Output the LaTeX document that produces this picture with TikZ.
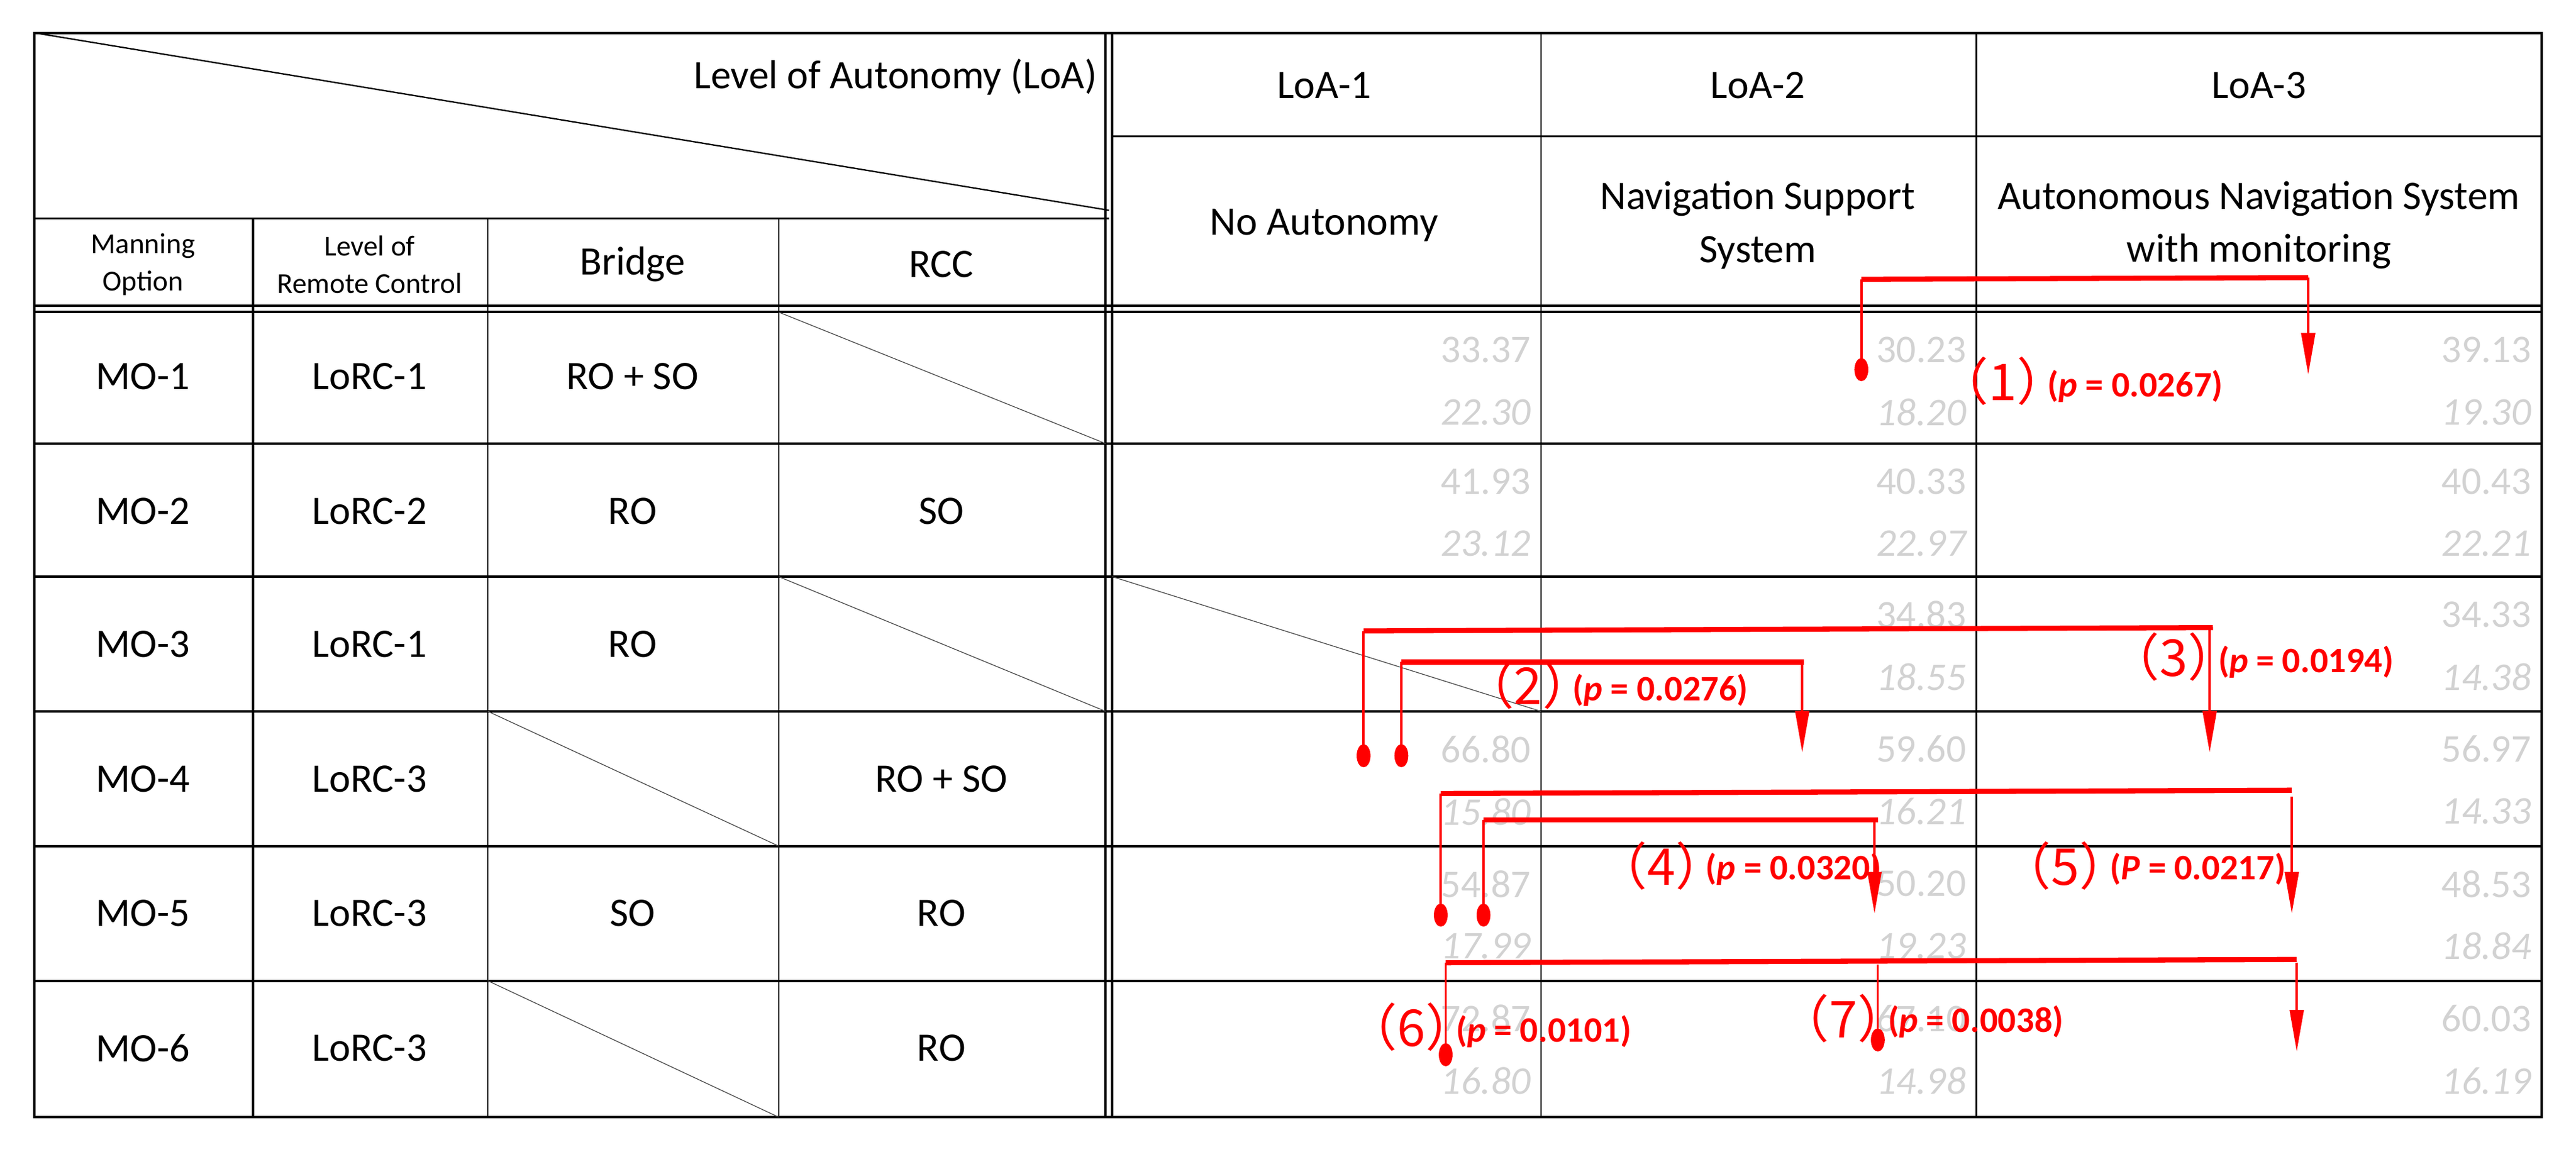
\documentclass[tikz,border=0pt]{standalone}
\usepackage{fontspec}
\setmainfont{Carlito}
\newfontfamily\cjk{Noto Sans CJK JP}
\usetikzlibrary{arrows.meta,shapes.geometric}
\definecolor{numgray}{RGB}{210,210,210}
\definecolor{ared}{RGB}{255,0,0}
\tikzset{
  grid/.style={line width=0.6pt,black},
  frame/.style={line width=1.1pt,black},
  thin/.style={line width=0.35pt,black!70},
  lbl/.style={font=\fontsize{17.5}{20}\selectfont,align=center,inner sep=0},
  small/.style={font=\fontsize{12.5}{14}\selectfont,align=center,inner sep=0},
  num/.style={font=\fontsize{17}{20}\selectfont,text=numgray,anchor=east,inner sep=0},
  inum/.style={num,font=\fontsize{17}{20}\selectfont\itshape},
  bar/.style={ared,line width=2.2pt},
  leg/.style={ared,line width=1pt},
  arr/.style={ared,line width=1pt,-{Triangle[length=18pt,width=6pt]}},
  dot/.style={ellipse,fill=ared,minimum width=6pt,minimum height=10pt,inner sep=0},
  tag/.style={ared,font=\cjk\fontsize{22}{24}\selectfont,inner sep=0,anchor=east,xshift=13*0.025cm},
  pv/.style={ared,font=\bfseries\fontsize{15.5}{17}\selectfont,inner sep=0,anchor=west}
}
\begin{document}
\begin{tikzpicture}[x=0.025cm,y=-0.025cm]
\useasboundingbox (0,0) rectangle (1568,701);
\draw[frame] (21,20) rectangle (1547,680);
\draw[frame] (673,20) -- (673,680);
\draw[frame] (677,20) -- (677,680);
\draw[grid] (677,83) -- (1547,83);
\draw[grid] (21,133) -- (675,133);
\draw[grid] (21,20) -- (675,128);
\draw[frame] (21,186) -- (1547,186);
\draw[frame] (21,190) -- (1547,190);
\foreach \y in {270,351,433,515,597} \draw[frame] (21,\y) -- (1547,\y);
\foreach \x in {297,474} \draw[grid] (\x,133) -- (\x,680);
\draw[frame] (154,133) -- (154,680);
\foreach \x in {938,1203} \draw[grid] (\x,20) -- (\x,680);
\draw[thin] (474,190) -- (673,270);
\draw[thin] (474,351) -- (673,433);
\draw[thin] (677,351) -- (938,433);
\draw[thin] (297,433) -- (474,515);
\draw[thin] (297,597) -- (474,680);
\node[lbl,anchor=east] (loa) at (668,47) {Level of Autonomy (LoA)};
\node[lbl] (l1) at (806,52) {LoA-1};
\node[lbl] (l2) at (1070,52) {LoA-2};
\node[lbl] (l3) at (1375,52) {LoA-3};
\node[lbl] (d1) at (806,137) {No Autonomy};
\node[lbl] (d2) at (1070,137) {Navigation Support\\[3pt]System};
\node[lbl] (d3) at (1375,137) {Autonomous Navigation System\\[3pt]with monitoring};
\node[small] (mo) at (87,161) {Manning\\[2pt]Option};
\node[small] (lr) at (225,161) {Level of\\[2pt]Remote Control};
\node[lbl] (br) at (385,161) {Bridge};
\node[lbl] (rc) at (573,161) {RCC};
\foreach \i/\y/\lo/\b/\r in {1/229/1/RO + SO/,2/311/2/RO/SO,3/392/1/RO/,4/474/3//RO + SO,5/556/3/SO/RO,6/638/3//RO}{
  \node[lbl] (mo\i) at (87,\y) {MO-\i};
  \node[lbl] (lorc\i) at (225,\y) {LoRC-\lo};
  \node[lbl] (b\i) at (385,\y) {\b};
  \node[lbl] (r\i) at (573,\y) {\r};
}
\foreach \i/\y/\a/\aa/\bb/\bbb/\c/\cc in {
 1/190/33.37/22.30/30.23/18.20/39.13/19.30,
 2/270/41.93/23.12/40.33/22.97/40.43/22.21,
 4/433/66.80/15.80/59.60/16.21/56.97/14.33,
 5/515/54.87/17.99/50.20/19.23/48.53/18.84,
 6/597/72.87/16.80/67.10/14.98/60.03/16.19}{
  \node[num] (na\i) at (932,\y+23) {\a};
  \node[inum] (nai\i) at (932,\y+61) {\aa};
  \node[num] (nb\i) at (1197,\y+23) {\bb};
  \node[inum] (nbi\i) at (1197,\y+61) {\bbb};
  \node[num] (nc\i) at (1541,\y+23) {\c};
  \node[inum] (nci\i) at (1541,\y+61) {\cc};
}
\node[num] (nb3) at (1197,374) {34.83};
\node[inum] (nbi3) at (1197,412) {18.55};
\node[num] (nc3) at (1541,374) {34.33};
\node[inum] (nci3) at (1541,412) {14.38};
% (1)
\node[dot] (p1) at (1133,225) {};
\coordinate (e1) at (1405,228);
\draw[leg] (p1.center) -- (1133,170);
\draw[bar] (1133,170) -- (1405,169);
\draw[arr] (1405,169) -- (e1);
\node[tag] (t1) at (1246,232) {（1）};
\node[pv] (v1) at (1246,235) {(\textit{p} = 0.0267)};
% (3)
\node[dot] (p3) at (830,460) {};
\coordinate (e3) at (1345,458);
\draw[leg] (p3.center) -- (830,384);
\draw[bar] (830,384) -- (1347,382);
\draw[arr] (1345,382) -- (e3);
\node[tag] (t3) at (1350,400) {（3）};
\node[pv] (v3) at (1350,403) {(\textit{p} = 0.0194)};
% (2)
\node[dot] (p2) at (853,460) {};
\coordinate (e2) at (1097,458);
\draw[leg] (p2.center) -- (853,403);
\draw[bar] (853,403) -- (1098,403);
\draw[arr] (1097,403) -- (e2);
\node[tag] (t2) at (957,417) {（2）};
\node[pv] (v2) at (957,420) {(\textit{p} = 0.0276)};
% (5)
\node[dot] (p5) at (877,557) {};
\coordinate (e5) at (1395,556);
\draw[leg] (p5.center) -- (877,483);
\draw[bar] (877,483) -- (1395,481);
\draw[arr] (1395,485) -- (e5);
\node[tag] (t5) at (1284,527) {（5）};
\node[pv] (v5) at (1284,529) {(\textit{P} = 0.0217)};
% (4)
\node[dot] (p4) at (903,557) {};
\coordinate (e4) at (1141,556);
\draw[leg] (p4.center) -- (903,499);
\draw[bar] (903,499) -- (1143,499);
\draw[arr] (1141,500) -- (e4);
\node[tag] (t4) at (1038,527) {（4）};
\node[pv] (v4) at (1038,529) {(\textit{p} = 0.0320)};
% (6) and (7)
\node[dot] (p6) at (880,642) {};
\node[dot] (p7) at (1143,633) {};
\coordinate (e6) at (1398,640);
\draw[leg] (p6.center) -- (880,586);
\draw[bar] (880,586) -- (1398,584);
\draw[leg] (p7.center) -- (1143,587);
\draw[arr] (1398,586) -- (e6);
\node[tag] (t6) at (886,625) {（6）};
\node[pv] (v6) at (886,628) {(\textit{p} = 0.0101)};
\node[tag] (t7) at (1149,620) {（7）};
\node[pv] (v7) at (1149,622) {(\textit{p} = 0.0038)};
\end{tikzpicture}
\end{document}
